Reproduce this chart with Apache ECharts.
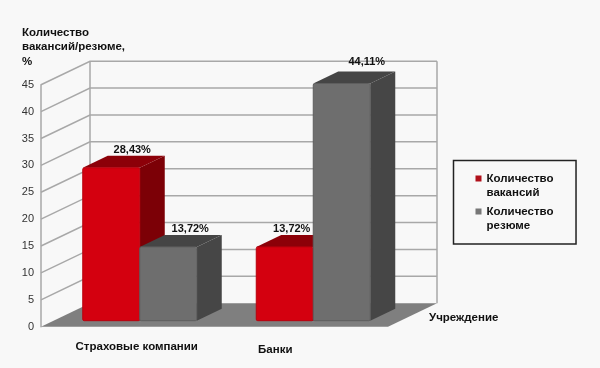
<!DOCTYPE html>
<html>
<head>
<meta charset="utf-8">
<style>html,body{margin:0;padding:0;background:#f8f8f8}#c{width:600px;height:368px}</style>
<script src="https://cdn.jsdelivr.net/npm/echarts@6/dist/echarts.min.js"></script>
</head>
<body>
<div id="c"></div>
<script>
const categories = ['Страховые компании', 'Банки'];
const vacancies = [28.43, 13.72];
const resumes = [13.72, 44.11];
const yTicks = [0, 5, 10, 15, 20, 25, 30, 35, 40, 45];
const seriesNames = ['Количество\nвакансий', 'Количество\nрезюме'];
const yTitle = 'Количество\nвакансий/резюме,\n%';
const xTitle = 'Учреждение';

const FONT = '"Liberation Sans", Arial, sans-serif';
const WALL = {dx: 49, dy: 23.5};
const BAR = {dx: 25, dy: 12, shiftX: 12, shiftY: 6, ratio: 57 / 173.5};
const labelNudge = [[[21, 6], [22, 6]], [[7, 6], [25, 10]]]; // per category, per series: [right, up] label offset

const chart = echarts.init(document.getElementById('c'));

function wallItem(params, api) {
  const v = api.value(0);
  const r = params.coordSys;
  const y = api.coord([0, v])[1];
  const children = [];
  if (params.dataIndex === 0) {
    children.push({type: 'polygon', shape: {points: [[r.x, y], [r.x + r.width, y], [r.x + r.width + WALL.dx, y - WALL.dy], [r.x + WALL.dx, y - WALL.dy]]}, style: {fill: '#7f7f7f'}});
    children.push({type: 'line', shape: {x1: r.x + WALL.dx, y1: y - WALL.dy, x2: r.x + WALL.dx, y2: r.y - WALL.dy}, style: {stroke: '#a8a8a8', lineWidth: 1.5}});
    children.push({type: 'line', shape: {x1: r.x + r.width + WALL.dx, y1: y - WALL.dy, x2: r.x + r.width + WALL.dx, y2: r.y - WALL.dy}, style: {stroke: '#a8a8a8', lineWidth: 1.5}});
  } else {
    children.push({type: 'polyline', shape: {points: [[r.x, y], [r.x + WALL.dx, y - WALL.dy], [r.x + r.width + WALL.dx, y - WALL.dy]]}, style: {fill: 'none', stroke: '#a8a8a8', lineWidth: 1.5}});
  }
  return {type: 'group', children};
}

function barRenderer(seriesIdx, colors) {
  return function (params, api) {
    const cat = api.value(0), v = api.value(1);
    const c = api.coord([cat, 0]);
    const top = api.coord([cat, v])[1] - BAR.shiftY;
    const base = c[1] - BAR.shiftY;
    const w = api.size([1, 0])[0] * BAR.ratio;
    const xr = c[0] + BAR.shiftX;
    const x0 = seriesIdx === 0 ? xr - w : xr;
    const x1 = x0 + w;
    const d = BAR;
    const nudge = labelNudge[cat][seriesIdx];
    return {type: 'group', children: [
      {type: 'polygon', shape: {points: [[x1, top], [x1 + d.dx, top - d.dy], [x1 + d.dx, base - d.dy], [x1, base]]}, style: {fill: colors.side}},
      {type: 'polygon', shape: {points: [[x0, top], [x0 + d.dx, top - d.dy], [x1 + d.dx, top - d.dy], [x1, top]]}, style: {fill: colors.top}},
      {type: 'rect', shape: {x: x0, y: top, width: w, height: base - top, r: 1.5}, style: {fill: colors.face, stroke: colors.edge, lineWidth: 1}},
      {type: 'text', style: {
        x: (x0 + x1) / 2 + nudge[0], y: top - d.dy - nudge[1],
        text: v.toFixed(2).replace('.', ',') + '%',
        fill: '#111', font: 'bold 11px ' + FONT, align: 'center', verticalAlign: 'middle'
      }, z2: 10}
    ]};
  };
}

const redColors = {face: '#d4000f', side: '#7c0006', top: '#8c0008', edge: '#b8000d'};
const greyColors = {face: '#6e6e6e', side: '#464646', top: '#454545', edge: '#5e5e5e'};
const legendIcon = 'path://M0 0h6v6h-6z M0 20 L0 20';

chart.setOption({
  animation: false,
  backgroundColor: '#f8f8f8',
  textStyle: {fontFamily: FONT},
  grid: {left: 41, top: 84.7, width: 347, height: 242},
  xAxis: {
    type: 'category',
    data: [
      {value: categories[0], textStyle: {padding: [0, 0, 0, 18]}},
      {value: categories[1], textStyle: {padding: [3, 52, 0, 0]}}
    ],
    axisLine: {show: false},
    axisTick: {show: false},
    axisLabel: {margin: 14, fontSize: 11.5, fontWeight: 'bold', color: '#111', fontFamily: FONT, interval: 0},
    name: xTitle,
    nameLocation: 'end',
    nameGap: 41,
    nameTextStyle: {fontSize: 11.5, fontWeight: 'bold', color: '#111', align: 'left', verticalAlign: 'bottom', lineHeight: 17, fontFamily: FONT}
  },
  yAxis: {
    type: 'value',
    min: 0, max: 45, interval: 5,
    splitLine: {show: false},
    axisTick: {show: false},
    axisLine: {show: true, lineStyle: {color: '#a8a8a8', width: 1.5}},
    axisLabel: {margin: 7, fontSize: 11, color: '#333', fontFamily: FONT, padding: [3, 0, 0, 0]},
    name: yTitle,
    nameLocation: 'end',
    nameGap: 16,
    nameTextStyle: {fontSize: 11.5, fontWeight: 'bold', color: '#111', align: 'left', lineHeight: 14.5, padding: [0, 0, 0, -19], fontFamily: FONT}
  },
  legend: {
    left: 453.5, top: 160.5,
    orient: 'vertical',
    selectedMode: false,
    data: [
      {name: seriesNames[0], icon: legendIcon, itemStyle: {color: '#b0101a'}},
      {name: seriesNames[1], icon: legendIcon, itemStyle: {color: '#777777'}}
    ],
    itemWidth: 6, itemHeight: 20, itemGap: 5,
    padding: [11, 22.5, 11.5, 22],
    backgroundColor: '#f8f8f8',
    borderColor: '#222',
    borderWidth: 1.5,
    borderRadius: 0,
    textStyle: {fontSize: 11.5, fontWeight: 'bold', color: '#111', lineHeight: 14, fontFamily: FONT}
  },
  series: [
    {type: 'custom', name: 'wall', coordinateSystem: 'cartesian2d', silent: true, z: 1,
     data: yTicks.map(v => [v]), encode: {y: 0}, renderItem: wallItem},
    {type: 'custom', name: seriesNames[0], coordinateSystem: 'cartesian2d', z: 2,
     itemStyle: {color: redColors.face},
     data: vacancies.map((v, i) => [i, v]), encode: {x: 0, y: 1}, renderItem: barRenderer(0, redColors)},
    {type: 'custom', name: seriesNames[1], coordinateSystem: 'cartesian2d', z: 3,
     itemStyle: {color: greyColors.face},
     data: resumes.map((v, i) => [i, v]), encode: {x: 0, y: 1}, renderItem: barRenderer(1, greyColors)}
  ]
});
</script>
</body>
</html>
